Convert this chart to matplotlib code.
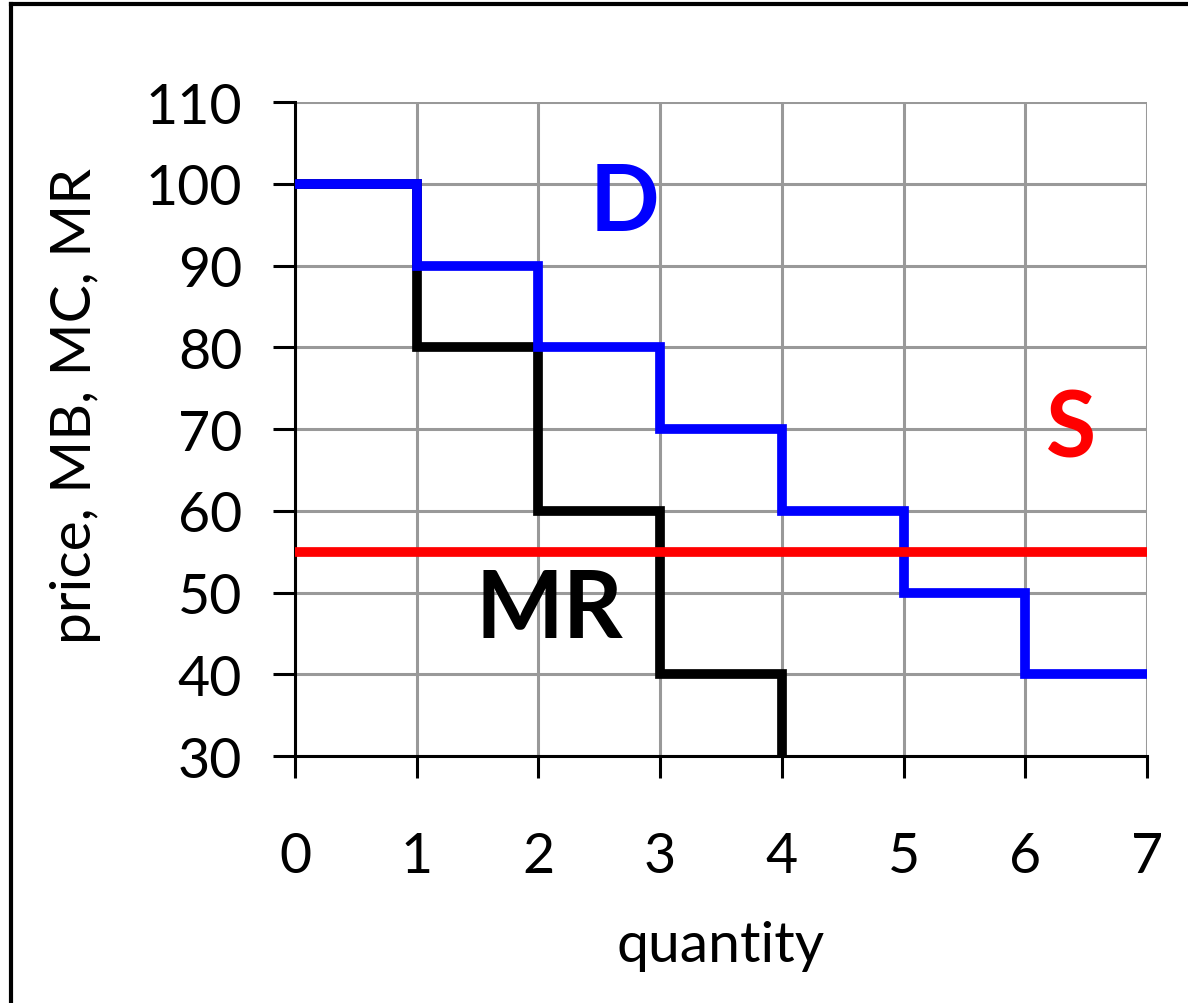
import matplotlib.pyplot as plt
from matplotlib.lines import Line2D

plt.rcParams['font.family'] = ['Lato', 'DejaVu Sans']

# step data: price / marginal values for each unit of quantity
quantity = [0, 1, 2, 3, 4, 5, 6, 7]
demand = [100, 90, 80, 70, 60, 50, 40, 40]
mr_quantity = [0, 1, 2, 3, 4]
marginal_revenue = [100, 80, 60, 40, 20]
supply_price = 55

x_ticks = [0, 1, 2, 3, 4, 5, 6, 7]
y_ticks = [30, 40, 50, 60, 70, 80, 90, 100, 110]


def main():
    fig = plt.figure(figsize=(11.88, 10.04), dpi=100)
    ax = fig.add_axes([0.2483, 0.246, 0.7172, 0.6514])

    ax.set_xlim(0, 7)
    ax.set_ylim(30, 110)
    ax.set_xticks(x_ticks)
    ax.set_yticks(y_ticks)

    ax.grid(True, color='#999999', linewidth=2.2, zorder=0)
    ax.set_axisbelow(True)
    for side in ['top', 'right']:
        ax.spines[side].set_visible(False)
    for side in ['left', 'bottom']:
        ax.spines[side].set_linewidth(2.2)
        ax.spines[side].set_zorder(1)

    ax.tick_params(axis='both', direction='out', length=16, width=2.2,
                   labelsize=40, colors='black')
    ax.tick_params(axis='y', pad=22)
    ax.tick_params(axis='x', pad=38)

    ax.plot(mr_quantity, marginal_revenue, drawstyle='steps-post', color='black',
            linewidth=7, solid_joinstyle='miter', zorder=3)
    ax.plot(quantity, demand, drawstyle='steps-post', color='#0000ff',
            linewidth=7, solid_joinstyle='miter', zorder=4)
    ax.axhline(supply_price, color='#ff0000', linewidth=7, zorder=5)

    ax.text(2.71, 97.5, 'D', color='#0000ff', fontsize=66, fontweight='bold',
            ha='center', va='center')
    ax.text(6.38, 69.8, 'S', color='#ff0000', fontsize=66, fontweight='bold',
            ha='center', va='center')
    ax.text(2.09, 47.9, 'MR', color='black', fontsize=67, fontweight='bold',
            ha='center', va='center')

    ax.set_xlabel('quantity', fontsize=41)
    ax.set_ylabel('price, MB, MC, MR', fontsize=41)
    ax.xaxis.set_label_coords(0.5, -0.25)
    ax.yaxis.set_label_coords(-0.228, 0.537)

    # chart frame, left and top edges
    fig.add_artist(Line2D([0.0093, 0.0093], [0, 0.995], color='black', linewidth=3))
    fig.add_artist(Line2D([0.0093, 1.0], [0.995, 0.995], color='black', linewidth=3))

    fig.savefig('out.png', dpi=100)


if __name__ == '__main__':
    main()
